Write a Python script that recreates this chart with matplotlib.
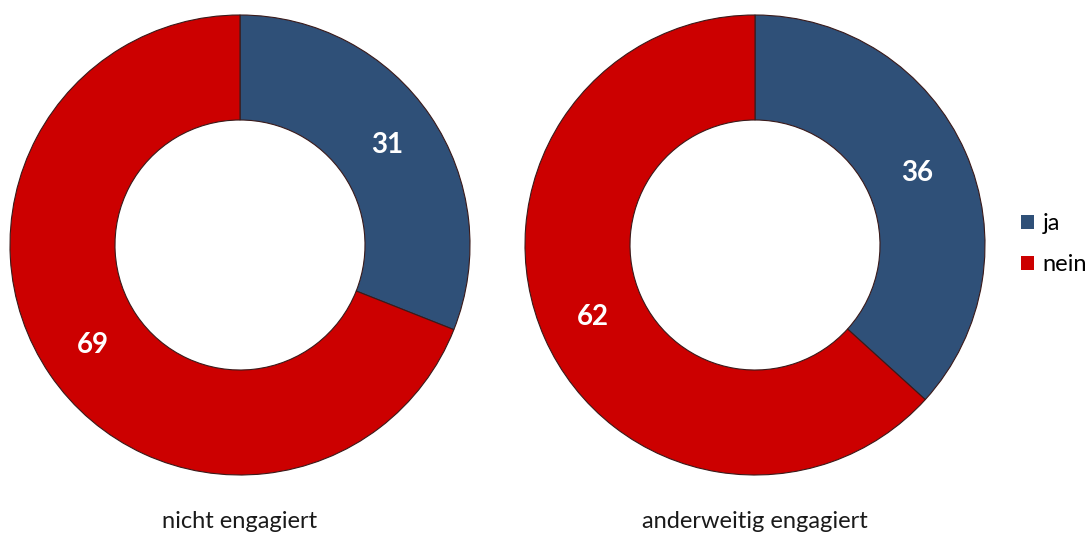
import matplotlib
matplotlib.use("Agg")
import matplotlib.pyplot as plt
from matplotlib.patches import Patch

plt.rcParams["font.family"] = ["Lato", "DejaVu Sans"]

categories = ["ja", "nein"]
groups = ["nicht engagiert", "anderweitig engagiert"]
values_nicht = [31, 69]
values_anderweitig = [36, 62]

colors = ["#2F5078", "#CC0000"]

W, H = 1087, 536
fig = plt.figure(figsize=(W / 100, H / 100), dpi=100, facecolor="white")
ax = fig.add_axes([0, 0, 1, 1])

R_OUT = 230
RING = 105
centers = [(240, H - 245), (755, H - 245)]

for vals, (cx, cy), name in zip([values_nicht, values_anderweitig], centers, groups):
    total = sum(vals)
    wedges, texts, autotexts = ax.pie(
        vals, center=(cx, cy), radius=R_OUT, startangle=90, counterclock=False,
        colors=colors, frame=True,
        wedgeprops=dict(width=RING, edgecolor="#3a1a1a", linewidth=0.8),
        autopct=lambda p, t=total: f"{round(p * t / 100)}", pctdistance=0.772,
        textprops=dict(color="white", fontsize=20, fontweight="bold"),
    )
    ax.text(cx, H - 522, name, ha="center", va="center", fontsize=17, color="#1a1a1a")

ax.set_xlim(0, W)
ax.set_ylim(0, H)
ax.set_aspect("equal")
ax.axis("off")

handles = [Patch(facecolor=c, edgecolor="none") for c in colors]
fig.legend(handles, categories, loc="center left", bbox_to_anchor=(1012 / W, 1 - 244 / H),
           frameon=False, fontsize=17, handlelength=0.55, handleheight=0.55,
           handletextpad=0.35, labelspacing=0.85, borderaxespad=0)

fig.savefig("out.png", dpi=100, facecolor="white")
